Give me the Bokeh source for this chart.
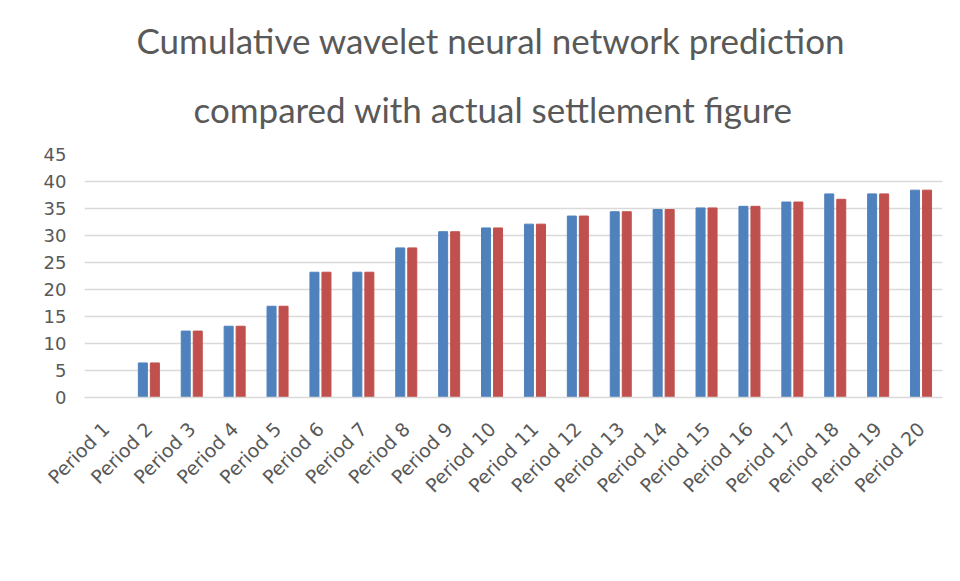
import math
from bokeh.plotting import figure
from bokeh.models import ColumnDataSource, Legend, LegendItem, Range1d, Title
from bokeh.transform import dodge
from bokeh.embed import file_html
from bokeh.resources import INLINE

periods = ["Period 1", "Period 2", "Period 3", "Period 4", "Period 5",
           "Period 6", "Period 7", "Period 8", "Period 9", "Period 10",
           "Period 11", "Period 12", "Period 13", "Period 14", "Period 15",
           "Period 16", "Period 17", "Period 18", "Period 19", "Period 20"]
settlement = [0, 6.4, 12.3, 13.2, 16.9, 23.2, 23.2, 27.7, 30.7, 31.4,
              32.1, 33.6, 34.4, 34.8, 35.1, 35.4, 36.2, 37.7, 37.7, 38.4]
prediction = [0, 6.4, 12.3, 13.2, 16.9, 23.2, 23.2, 27.7, 30.7, 31.4,
              32.1, 33.6, 34.4, 34.8, 35.1, 35.4, 36.2, 36.7, 37.7, 38.4]
y_ticks = [0, 5, 10, 15, 20, 25, 30, 35, 40, 45]
title_lines = ["Cumulative wavelet neural network prediction",
               "compared with actual settlement figure"]

TITLE_FONT = "Lato"
LABEL_FONT = "DejaVu Sans"
GREY = "#595959"

src = ColumnDataSource(dict(period=periods, settlement=settlement, prediction=prediction))

p = figure(x_range=periods, y_range=Range1d(0, 45),
           frame_width=858, frame_height=243,
           output_backend="svg", toolbar_location=None,
           min_border_left=84, min_border_right=10, min_border_top=154,
           min_border_bottom=0)

# first title line (outermost)
p.title.text = title_lines[0]
p.title.align = "left"
p.title.offset = 52
p.title.text_font = TITLE_FONT
p.title.text_font_size = "35px"
p.title.text_font_style = "normal"
p.title.text_color = GREY
p.title.standoff = 0
# second title line (closest to the plot)
p.add_layout(Title(text=title_lines[1], align="left", offset=109,
                   text_font=TITLE_FONT, text_font_size="35px",
                   text_font_style="normal", text_color=GREY, standoff=50), "above")

r1 = p.vbar(x=dodge("period", -0.14, range=p.x_range), top="settlement", width=0.21,
            source=src, color="#4f81bd")
r2 = p.vbar(x=dodge("period", 0.14, range=p.x_range), top="prediction", width=0.21,
            source=src, color="#c0504d")

p.x_range.range_padding = 0
p.outline_line_color = None
p.xgrid.grid_line_color = None
p.ygrid.grid_line_color = "#d9d9d9"
p.ygrid.grid_line_width = 1.5
p.yaxis.ticker = y_ticks
p.yaxis.axis_line_color = None
p.yaxis.major_tick_line_color = None
p.yaxis.minor_tick_line_color = None
p.yaxis.major_label_text_font = LABEL_FONT
p.yaxis.major_label_text_font_size = "18px"
p.yaxis.major_label_text_color = GREY
p.yaxis.major_label_standoff = 12

xaxis = p.xaxis[0]
xaxis.axis_line_color = "#d9d9d9"
xaxis.axis_line_width = 1.5
xaxis.major_tick_line_color = None
xaxis.minor_tick_line_color = None
xaxis.major_label_orientation = math.pi / 4
xaxis.major_label_text_font = LABEL_FONT
xaxis.major_label_text_font_size = "19px"
xaxis.major_label_text_color = GREY
xaxis.major_label_standoff = 22

legend = Legend(items=[LegendItem(label="Cumulative settlement", renderers=[r1]),
                       LegendItem(label="Cumulative prediction", renderers=[r2])],
                orientation="horizontal", location="center",
                label_text_font=LABEL_FONT, label_text_font_size="20px",
                label_text_color=GREY, glyph_width=12, glyph_height=12,
                label_standoff=4, spacing=7, border_line_color=None,
                background_fill_alpha=0, margin=26, padding=0)
p.add_layout(legend, "below")

open("out.html", "w").write(file_html(p, INLINE))
